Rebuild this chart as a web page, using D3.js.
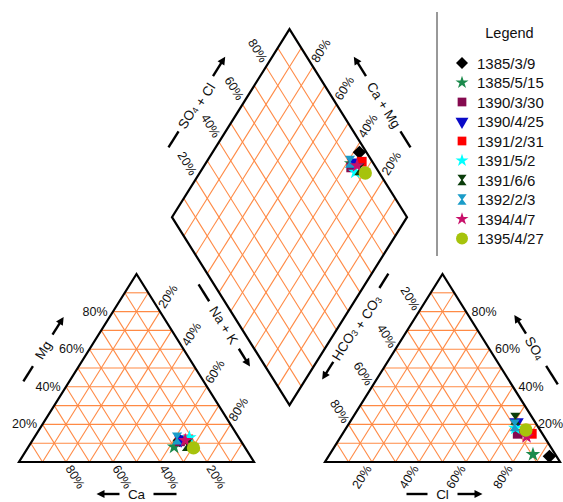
<!DOCTYPE html>
<html>
<head>
<meta charset="utf-8">
<script src="https://cdn.jsdelivr.net/npm/d3@7"></script>
<style>
  body { margin: 0; background: #fff; }
  text { font-family: "Liberation Sans", Arial, sans-serif; fill: #111; }
</style>
</head>
<body>
<div id="chart"></div>
<script>
// samples (dates) and their ion percentages
var samples = ['1385/3/9', '1385/5/15', '1390/3/30', '1390/4/25', '1391/2/31',
               '1391/5/2', '1391/6/6', '1392/2/3', '1394/4/7', '1395/4/27'];
// cations (%)
var ca  = [26, 30, 26, 25, 22, 21, 24, 26.5, 23.5, 22];
var mg  = [11.5, 8, 11, 12, 12, 13, 9, 12.5, 11.5, 7.5];
var nak = [62.5, 62, 63, 63, 66, 66, 67, 61, 65, 70.5];
// anions (%)
var hco3 = [3, 9.5, 10.5, 8, 4.5, 10, 7.5, 9.5, 7.5, 6];
var so4  = [3, 4, 15, 21, 15, 18, 23, 19.5, 13.5, 17];
var cl   = [94, 86.5, 74.5, 71, 80.5, 72, 69.5, 71, 79, 77];

var ticks = [20, 40, 60, 80];

// marker styles, one per sample
var shapes = ['diamond', 'star', 'square', 'triDown', 'square', 'star', 'hourglass', 'hourglass', 'star', 'circle'];
var colors = ['#000000', '#1b8a4c', '#850a4f', '#0a0ac8', '#ff0000', '#00ffff', '#0b3d0b', '#1a9cc8', '#c8106a', '#a6c30c'];

var W = 563, H = 502;
var gap = 71 / 235;   // space between the two triangles, in side units
var ang = 58;         // edge angle on screen

var svg = d3.select('#chart').append('svg')
  .attr('width', W).attr('height', H);

var x = d3.scaleLinear().domain([0, 2 + gap]).range([19, 560]);
var y = d3.scaleLinear().domain([0, 1]).range([462, 274]);

// unit coords -> pixels
function P(u, v) { return [x(u), y(v)]; }
function leftPt(c, m, n) { return P(n + m / 2, m); }
function rightPt(h, s, c) { return P(1 + gap + c + s / 2, s); }
function diaPt(c, a) { return P(1 + gap / 2 + (a - c) / 2, gap + a + c); }

var line = d3.line();
var gridColor = '#ff8a45';

var grid = svg.append('g').attr('stroke', gridColor).attr('stroke-width', 1.1);

// triangle grids
function triGrid(pt) {
  for (var k = 1; k < 10; k++) {
    var f = k / 10;
    grid.append('path').attr('d', line([pt(f, 1 - f, 0), pt(f, 0, 1 - f)]));
    grid.append('path').attr('d', line([pt(1 - f, f, 0), pt(0, f, 1 - f)]));
    grid.append('path').attr('d', line([pt(1 - f, 0, f), pt(0, 1 - f, f)]));
  }
}
// left: (Ca, Mg, NaK); right: (HCO3, SO4, Cl)
triGrid(leftPt);
triGrid(rightPt);
for (var k = 1; k < 10; k++) {
  grid.append('path').attr('d', line([diaPt(k / 10, 0), diaPt(k / 10, 1)]));
  grid.append('path').attr('d', line([diaPt(0, k / 10), diaPt(1, k / 10)]));
}

// outlines
var frame = svg.append('g').attr('fill', 'none').attr('stroke', '#000').attr('stroke-width', 2.2)
  .attr('stroke-linejoin', 'miter');
frame.append('path').attr('d', line([leftPt(1, 0, 0), leftPt(0, 0, 1), leftPt(0, 1, 0)]) + 'Z');
frame.append('path').attr('d', line([rightPt(1, 0, 0), rightPt(0, 0, 1), rightPt(0, 1, 0)]) + 'Z');
frame.append('path').attr('d', line([diaPt(0, 0), diaPt(0, 1), diaPt(1, 1), diaPt(1, 0)]) + 'Z');

// tick labels
var tl = svg.append('g').attr('font-size', 12.5).attr('text-anchor', 'middle').attr('dominant-baseline', 'central');
function tickLabels(pos, dx, dy, rot) {
  ticks.forEach(function(t) {
    var p = pos(t / 100);
    var ox = typeof dx === 'function' ? dx(t) : dx;
    tl.append('text')
      .attr('transform', 'translate(' + (p[0] + ox) + ',' + (p[1] + dy) + ') rotate(' + rot + ')')
      .text(t + '%');
  });
}
tickLabels(function(f) { return leftPt(1 - f, f, 0); }, -18, 0, 0);          // Mg
tickLabels(function(f) { return leftPt(0, 1 - f, f); }, 8, -15, -ang);      // Na + K
tickLabels(function(f) { return leftPt(f, 0, 1 - f); }, 9, 15, ang);        // Ca
tickLabels(function(f) { return rightPt(f, 1 - f, 0); }, -9, -13, ang);     // HCO3
tickLabels(function(f) { return rightPt(0, f, 1 - f); },
  function(t) { return t === 20 ? 14 : 18; }, 0, 0);                        // SO4
tickLabels(function(f) { return rightPt(1 - f, 0, f); }, -10, 15, -ang);    // Cl
tickLabels(function(f) { return diaPt(1, f); }, -8.5, -16, ang);            // SO4 + Cl
tickLabels(function(f) { return diaPt(f, 1); }, 8, -16, -ang);              // Ca + Mg

// axis titles with dash and arrow
var tg = svg.append('g');
function axisTitle(cx, cy, dir, rot, parts, dash, arrow) {
  var r = dir * Math.PI / 180, dx = Math.cos(r), dy = Math.sin(r);
  function at(d) { return [cx + dx * d, cy + dy * d]; }
  tg.append('path').attr('d', line([at(dash[0]), at(dash[1])]))
    .attr('stroke', '#000').attr('stroke-width', 2.4);
  tg.append('path').attr('d', line([at(arrow[0]), at(arrow[1] - 5)]))
    .attr('stroke', '#000').attr('stroke-width', 2.4);
  var tip = at(arrow[1]), b = at(arrow[1] - 8);
  tg.append('path')
    .attr('d', line([tip, [b[0] - dy * 4, b[1] + dx * 4], [b[0] + dy * 4, b[1] - dx * 4]]) + 'Z')
    .attr('fill', '#000');
  var t = tg.append('text').attr('font-size', 13.5).attr('text-anchor', 'middle')
    .attr('dominant-baseline', 'central')
    .attr('transform', 'translate(' + cx + ',' + cy + ') rotate(' + rot + ')');
  parts.forEach(function(p) {
    if (p.sub) {
      t.append('tspan').attr('font-size', 9).attr('dy', 3).text(p.sub);
      t.append('tspan').attr('dy', -3).text('');
    } else {
      t.append('tspan').text(p.t);
    }
  });
}
axisTitle(43, 350, -ang, -ang, [{t: 'Mg'}], [-37, -19], [18, 39]);
axisTitle(136.5, 494, 180, 0, [{t: 'Ca'}], [-40, -17], [17, 40]);
axisTitle(224, 325, ang, ang, [{t: 'Na + K'}], [-48, -28], [28, 49]);
axisTitle(355, 327, 180 - ang, -ang, [{t: 'HCO'}, {sub: '3'}, {t: ' + CO'}, {sub: '3'}], [-63, -46], [41, 62]);
axisTitle(535, 348, -180 + ang, ang, [{t: 'SO'}, {sub: '4'}], [-43, -21], [17, 39]);
axisTitle(442.5, 494, 0, 0, [{t: 'Cl'}], [-36, -15], [15, 40]);
axisTitle(195, 105, -ang, -ang, [{t: 'SO'}, {sub: '4'}, {t: ' + Cl'}], [-50, -31], [34, 57]);
axisTitle(384, 105, -180 + ang, ang, [{t: 'Ca + Mg'}], [-50, -31], [34, 57]);

// markers
var hourglass = {
  draw: function(ctx, size) {
    var s = Math.sqrt(size) / 2, h = s * 1.15;
    ctx.moveTo(-s, -h); ctx.lineTo(s, -h); ctx.lineTo(s * 0.15, 0); ctx.lineTo(s, h);
    ctx.lineTo(-s, h); ctx.lineTo(-s * 0.15, 0); ctx.closePath();
  }
};
function marker(shape, big) {
  var k = big ? 1 : 0.8;
  if (shape === 'diamond') return { d: d3.symbol(d3.symbolSquare, 90 * k)(), rot: 45 };
  if (shape === 'star') return { d: d3.symbol(d3.symbolStar, 66 * k)(), rot: 0 };
  if (shape === 'square') return { d: d3.symbol(d3.symbolSquare, 95 * k)(), rot: 0 };
  if (shape === 'triDown') return { d: d3.symbol(d3.symbolTriangle, 90 * k)(), rot: 180 };
  if (shape === 'hourglass') return { d: d3.symbol(hourglass, 105 * k)(), rot: 0 };
  return { d: d3.symbol(d3.symbolCircle, 140 * k)(), rot: 0 };
}

var pts = svg.append('g');
samples.forEach(function(s, i) {
  var m = marker(shapes[i], true);
  var c = (ca[i] + mg[i]) / 100, a = (so4[i] + cl[i]) / 100;
  [leftPt(ca[i] / 100, mg[i] / 100, nak[i] / 100),
   rightPt(hco3[i] / 100, so4[i] / 100, cl[i] / 100),
   diaPt(c, a)].forEach(function(p) {
    pts.append('path').attr('d', m.d).attr('fill', colors[i])
      .attr('transform', 'translate(' + p[0] + ',' + p[1] + ') rotate(' + m.rot + ')');
  });
});

// legend
var lg = svg.append('g');
lg.append('line').attr('x1', 437).attr('x2', 437).attr('y1', 12).attr('y2', 256)
  .attr('stroke', '#333').attr('stroke-width', 1);
lg.append('text').attr('x', 509.5).attr('y', 33).attr('font-size', 14.5)
  .attr('text-anchor', 'middle').attr('dominant-baseline', 'central').text('Legend');
var ly = d3.scalePoint().domain(samples).range([63, 238.5]);
samples.forEach(function(s, i) {
  var m = marker(shapes[i], false);
  lg.append('path').attr('d', m.d).attr('fill', colors[i])
    .attr('transform', 'translate(462,' + ly(s) + ') rotate(' + m.rot + ')');
  lg.append('text').attr('x', 477).attr('y', ly(s)).attr('font-size', 15)
    .attr('dominant-baseline', 'central').text(s);
});
</script>
</body>
</html>
